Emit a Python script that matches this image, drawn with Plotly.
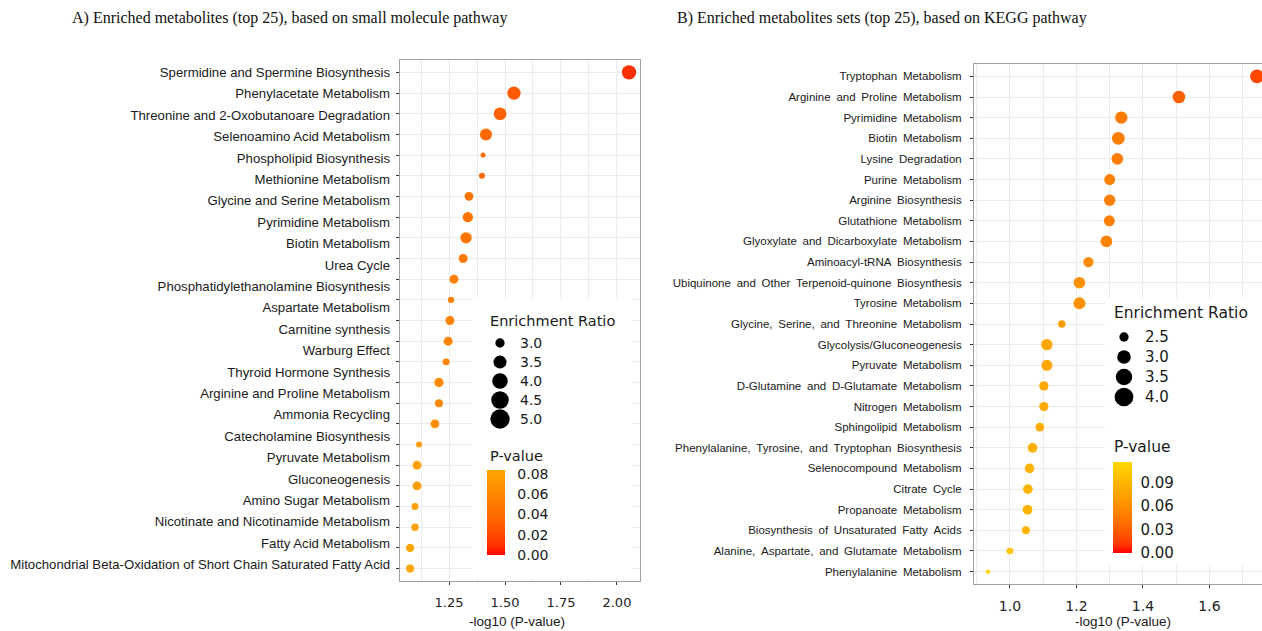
import numpy as np
import plotly.graph_objects as go

W, H = 1262, 631

# ---------------- data ----------------
left_labels = [
    "Spermidine and Spermine Biosynthesis",
    "Phenylacetate Metabolism",
    "Threonine and 2-Oxobutanoare Degradation",
    "Selenoamino Acid Metabolism",
    "Phospholipid Biosynthesis",
    "Methionine Metabolism",
    "Glycine and Serine Metabolism",
    "Pyrimidine Metabolism",
    "Biotin Metabolism",
    "Urea Cycle",
    "Phosphatidylethanolamine Biosynthesis",
    "Aspartate Metabolism",
    "Carnitine synthesis",
    "Warburg Effect",
    "Thyroid Hormone Synthesis",
    "Arginine and Proline Metabolism",
    "Ammonia Recycling",
    "Catecholamine Biosynthesis",
    "Pyruvate Metabolism",
    "Gluconeogenesis",
    "Amino Sugar Metabolism",
    "Nicotinate and Nicotinamide Metabolism",
    "Fatty Acid Metabolism",
    "Mitochondrial Beta-Oxidation of Short Chain Saturated Fatty Acid",
]
left_logp = [2.054, 1.540, 1.478, 1.415, 1.402, 1.397, 1.339, 1.334, 1.326, 1.313,
             1.272, 1.259, 1.254, 1.246, 1.237, 1.205, 1.205, 1.187, 1.116, 1.107,
             1.107, 1.098, 1.098, 1.076, 1.076]
left_ratio = [3.73, 3.54, 3.44, 3.33, 2.80, 2.81, 2.95, 3.10, 3.23, 2.97,
              2.97, 2.82, 2.97, 2.97, 2.84, 3.00, 2.90, 2.95, 2.81, 2.95,
              2.95, 2.84, 2.86, 2.92, 2.90]

right_labels = [
    "Tryptophan Metabolism",
    "Arginine and Proline Metabolism",
    "Pyrimidine Metabolism",
    "Biotin Metabolism",
    "Lysine Degradation",
    "Purine Metabolism",
    "Arginine Biosynthesis",
    "Glutathione Metabolism",
    "Glyoxylate and Dicarboxylate Metabolism",
    "Aminoacyl-tRNA Biosynthesis",
    "Ubiquinone and Other Terpenoid-quinone Biosynthesis",
    "Tyrosine Metabolism",
    "Glycine, Serine, and Threonine Metabolism",
    "Glycolysis/Gluconeogenesis",
    "Pyruvate Metabolism",
    "D-Glutamine and D-Glutamate Metabolism",
    "Nitrogen Metabolism",
    "Sphingolipid Metabolism",
    "Phenylalanine, Tyrosine, and Tryptophan Biosynthesis",
    "Selenocompound Metabolism",
    "Citrate Cycle",
    "Propanoate Metabolism",
    "Biosynthesis of Unsaturated Fatty Acids",
    "Alanine, Aspartate, and Glutamate Metabolism",
    "Phenylalanine Metabolism",
]
right_logp = [1.743, 1.508, 1.335, 1.326, 1.323, 1.300, 1.300, 1.299, 1.290, 1.236,
              1.209, 1.209, 1.156, 1.111, 1.111, 1.102, 1.102, 1.090, 1.068, 1.059,
              1.054, 1.053, 1.048, 1.000, 0.934]
right_ratio = [3.03, 2.87, 2.82, 2.87, 2.74, 2.66, 2.70, 2.66, 2.74, 2.59,
               2.74, 2.78, 2.37, 2.70, 2.66, 2.50, 2.50, 2.45, 2.53, 2.53,
               2.53, 2.53, 2.41, 2.34, 2.30]

left_size_breaks = [3.0, 3.5, 4.0, 4.5, 5.0]
right_size_breaks = [2.5, 3.0, 3.5, 4.0]
left_p_ticks = [0.00, 0.02, 0.04, 0.06, 0.08]
right_p_ticks = [0.00, 0.03, 0.06, 0.09]

# ---------------- helpers ----------------
def size_left(r):
    r = np.asarray(r, dtype=float)
    return 5 + 9.65 * np.sqrt(np.maximum(r - 2.8, 0))

def size_right(r):
    r = np.asarray(r, dtype=float)
    return 4.4 + 10.97 * np.sqrt(np.maximum(r - 2.3, 0))

def _hex2rgb(h):
    return [int(h[i:i + 2], 16) / 255 for i in (1, 3, 5)]

def _to_lab(h):
    rgb = [c / 12.92 if c <= 0.04045 else ((c + 0.055) / 1.055) ** 2.4 for c in _hex2rgb(h)]
    M = [[0.4124, 0.3576, 0.1805], [0.2126, 0.7152, 0.0722], [0.0193, 0.1192, 0.9505]]
    X, Y, Z = [sum(M[i][j] * rgb[j] for j in range(3)) for i in range(3)]
    X /= 0.95047; Z /= 1.08883
    f = lambda t: t ** (1 / 3) if t > 0.008856 else 7.787 * t + 16 / 116
    return 116 * f(Y) - 16, 500 * (f(X) - f(Y)), 200 * (f(Y) - f(Z))

def _from_lab(L, a, b):
    fy = (L + 16) / 116; fx = fy + a / 500; fz = fy - b / 200
    finv = lambda t: t ** 3 if t ** 3 > 0.008856 else (t - 16 / 116) / 7.787
    X, Y, Z = finv(fx) * 0.95047, finv(fy), finv(fz) * 1.08883
    Mi = [[3.2406, -1.5372, -0.4986], [-0.9689, 1.8758, 0.0415], [0.0557, -0.2040, 1.0570]]
    lin = [sum(Mi[i][j] * v for j, v in enumerate((X, Y, Z))) for i in range(3)]
    out = []
    for c in lin:
        c = min(max(c, 0), 1)
        c = 12.92 * c if c <= 0.0031308 else 1.055 * c ** (1 / 2.4) - 0.055
        out.append(int(round(min(max(c, 0), 1) * 255)))
    return "rgb(%d,%d,%d)" % tuple(out)

def lab_scale(lo, hi, n=11):
    a, b = _to_lab(lo), _to_lab(hi)
    return [[i / (n - 1), _from_lab(*[a[k] + (b[k] - a[k]) * i / (n - 1) for k in range(3)])]
            for i in range(n)]

def px(x):
    return x / W

def py(y):
    return 1 - y / H

def wide(s):
    # the KEGG panel's labels are set with wide word spacing
    return s.replace(" ", "\u2002")

left_p = [10 ** (-v) for v in left_logp]
right_p = [10 ** (-v) for v in right_logp]
right_cats = [wide(s) for s in right_labels]

SANS = "Liberation Sans, Arial, sans-serif"
DJ = "DejaVu Sans, sans-serif"
SERIF = "Liberation Serif, Times New Roman, serif"
GRID = "#ebebeb"
BORDER = "#a0a0a0"

fig = go.Figure()

# left panel points
fig.add_trace(go.Scatter(
    x=left_logp, y=list(range(len(left_logp))), mode="markers",
    xaxis="x", yaxis="y", showlegend=False,
    marker=dict(size=size_left(left_ratio), color=left_p,
                colorscale=lab_scale("#FF0000", "#FFA500"),
                cmin=0, cmax=max(left_p), line=dict(width=0), opacity=1,
                colorbar=dict(x=px(487), xanchor="left", xpad=0, ypad=0,
                              y=py(512.5), yanchor="middle", lenmode="pixels", len=85,
                              thicknessmode="pixels", thickness=18, outlinewidth=0,
                              tickvals=left_p_ticks, ticktext=["%.2f" % v for v in left_p_ticks],
                              ticks="outside", ticklen=10, tickcolor="rgba(0,0,0,0)",
                              tickfont=dict(family=DJ, size=14, color="#1a1a1a"))),
))
# dummy trace for label axis
fig.add_trace(go.Scatter(x=[None], y=[None], xaxis="x", yaxis="y4", showlegend=False,
                         hoverinfo="skip"))

# right panel points
fig.add_trace(go.Scatter(
    x=right_logp, y=right_cats, mode="markers",
    xaxis="x2", yaxis="y2", showlegend=False,
    marker=dict(size=size_right(right_ratio), color=right_p,
                colorscale=lab_scale("#FF0000", "#FFD700"),
                cmin=0, cmax=max(right_p), line=dict(width=0), opacity=1,
                colorbar=dict(x=px(1113), xanchor="left", xpad=0, ypad=0,
                              y=py(507.5), yanchor="middle", lenmode="pixels", len=91,
                              thicknessmode="pixels", thickness=19, outlinewidth=0,
                              tickvals=right_p_ticks, ticktext=["%.2f" % v for v in right_p_ticks],
                              ticks="outside", ticklen=6, tickcolor="rgba(0,0,0,0)",
                              tickfont=dict(family=DJ, size=15, color="#1a1a1a"))),
))

# legend boxes (white, over gridlines) and size-legend keys
shapes = [
    dict(type="rect", xref="x domain", yref="y domain", x0=0.30, x1=0.972, y0=0.006, y1=0.543,
         fillcolor="white", line=dict(width=0), layer="above"),
    dict(type="rect", xref="x2 domain", yref="y2 domain", x0=0.455, x1=1.0, y0=0.0365, y1=0.55,
         fillcolor="white", line=dict(width=0), layer="above"),
]
ly = [343 + i * 19 for i in range(len(left_size_breaks))]
ry = [337 + i * 20 for i in range(len(right_size_breaks))]
for cx, ys, ds in [(500, ly, size_left(left_size_breaks)), (1124, ry, size_right(right_size_breaks))]:
    for yy, d in zip(ys, ds):
        shapes.append(dict(type="circle", xref="paper", yref="paper",
                           xsizemode="pixel", ysizemode="pixel",
                           xanchor=px(cx), yanchor=py(yy),
                           x0=-d / 2, x1=d / 2, y0=-d / 2, y1=d / 2,
                           fillcolor="black", line=dict(width=0), layer="above"))

ann = []
for v, yy in zip(left_size_breaks, ly):
    ann.append(dict(x=px(518), y=py(yy), text="%.1f" % v, xanchor="left", yanchor="middle",
                    font=dict(family=DJ, size=14, color="#1a1a1a")))
for v, yy in zip(right_size_breaks, ry):
    ann.append(dict(x=px(1143), y=py(yy), text="%.1f" % v, xanchor="left", yanchor="middle",
                    font=dict(family=DJ, size=15, color="#1a1a1a")))
ann += [
    dict(x=px(488), y=py(321), text="Enrichment Ratio", xanchor="left", yanchor="middle",
         font=dict(family=DJ, size=14.5, color="#1a1a1a")),
    dict(x=px(488), y=py(456), text="P-value", xanchor="left", yanchor="middle",
         font=dict(family=DJ, size=14.5, color="#1a1a1a")),
    dict(x=px(1112), y=py(313), text="Enrichment Ratio", xanchor="left", yanchor="middle",
         font=dict(family=DJ, size=15.5, color="#1a1a1a")),
    dict(x=px(1112), y=py(447), text="P-value", xanchor="left", yanchor="middle",
         font=dict(family=DJ, size=15.5, color="#1a1a1a")),
    dict(x=px(517), y=py(621), text="-log10 (P-value)", xanchor="center", yanchor="middle",
         font=dict(family=SANS, size=13.5, color="#1a1a1a")),
    dict(x=px(1123), y=py(621), text="-log10 (P-value)", xanchor="center", yanchor="middle",
         font=dict(family=SANS, size=13.5, color="#1a1a1a")),
    dict(x=px(289), y=py(18), text="A) Enriched metabolites (top 25), based on small molecule pathway",
         xanchor="center", yanchor="middle", font=dict(family=SERIF, size=16, color="#111")),
    dict(x=px(882), y=py(18), text="B) Enriched metabolites sets (top 25), based on KEGG pathway",
         xanchor="center", yanchor="middle", font=dict(family=SERIF, size=16, color="#111")),
]
for a in ann:
    a.update(xref="paper", yref="paper", showarrow=False)

ydomL = [1 - 581 / H, 1 - 60 / H]
ydomR = [1 - 584 / H, 1 - 64 / H]

fig.update_layout(
    width=W, height=H, margin=dict(l=0, r=0, t=0, b=0),
    paper_bgcolor="white", plot_bgcolor="white", showlegend=False,
    annotations=ann, shapes=shapes,
    xaxis=dict(domain=[400 / W, 640 / W], anchor="y", range=[1.031, 2.103],
               tickmode="linear", tick0=1.25, dtick=0.25, tickformat=".2f",
               showgrid=True, gridcolor=GRID, gridwidth=1,
               minor=dict(tickmode="linear", tick0=1.125, dtick=0.125, showgrid=True,
                          gridcolor=GRID, gridwidth=1),
               ticks="outside", ticklen=3, tickcolor="#333", ticklabelstandoff=6,
               tickfont=dict(family=DJ, size=13, color="#222"),
               showline=True, mirror=True, linecolor=BORDER, linewidth=1,
               zeroline=False, automargin=False, fixedrange=True),
    yaxis=dict(domain=ydomL, anchor="x", range=[24.6, -0.6],
               tickmode="linear", tick0=0, dtick=1, showticklabels=False,
               showgrid=True, gridcolor=GRID, gridwidth=1,
               ticks="outside", ticklen=3, tickcolor="#333",
               showline=True, mirror=True, linecolor=BORDER, linewidth=1,
               zeroline=False, automargin=False, fixedrange=True),
    yaxis4=dict(domain=ydomL, anchor="x", overlaying="y", side="left", range=[24.6, -0.6],
                tickmode="array", tickvals=list(np.linspace(0, 23.8, len(left_labels))),
                ticktext=left_labels, ticks="", showgrid=False, showline=False,
                ticklabelstandoff=9, tickfont=dict(family=SANS, size=13.2, color="#1a1a1a"),
                zeroline=False, automargin=False, fixedrange=True),
    xaxis2=dict(domain=[974 / W, 1.0], anchor="y2", range=[0.892, 1.758],
                tickmode="linear", tick0=1.0, dtick=0.2, tickformat=".1f",
                showgrid=True, gridcolor=GRID, gridwidth=1,
                minor=dict(tickmode="linear", tick0=0.9, dtick=0.1, showgrid=True,
                           gridcolor=GRID, gridwidth=1),
                ticks="outside", ticklen=3, tickcolor="#333", ticklabelstandoff=6,
                tickfont=dict(family=DJ, size=14, color="#222"),
                showline=True, mirror=True, linecolor=BORDER, linewidth=1,
                zeroline=False, automargin=False, fixedrange=True),
    yaxis2=dict(domain=ydomR, anchor="x2", type="category", range=[24.6, -0.6],
                categoryorder="array", categoryarray=right_cats,
                showgrid=True, gridcolor=GRID, gridwidth=1,
                ticks="outside", ticklen=3, tickcolor="#333", ticklabelstandoff=6,
                tickfont=dict(family=SANS, size=11.5, color="#1a1a1a"),
                showline=True, mirror=True, linecolor=BORDER, linewidth=1,
                zeroline=False, automargin=False, fixedrange=True),
)

fig.write_html("out.html", config={"displayModeBar": False},
               post_script="document.body.style.margin='0';")
